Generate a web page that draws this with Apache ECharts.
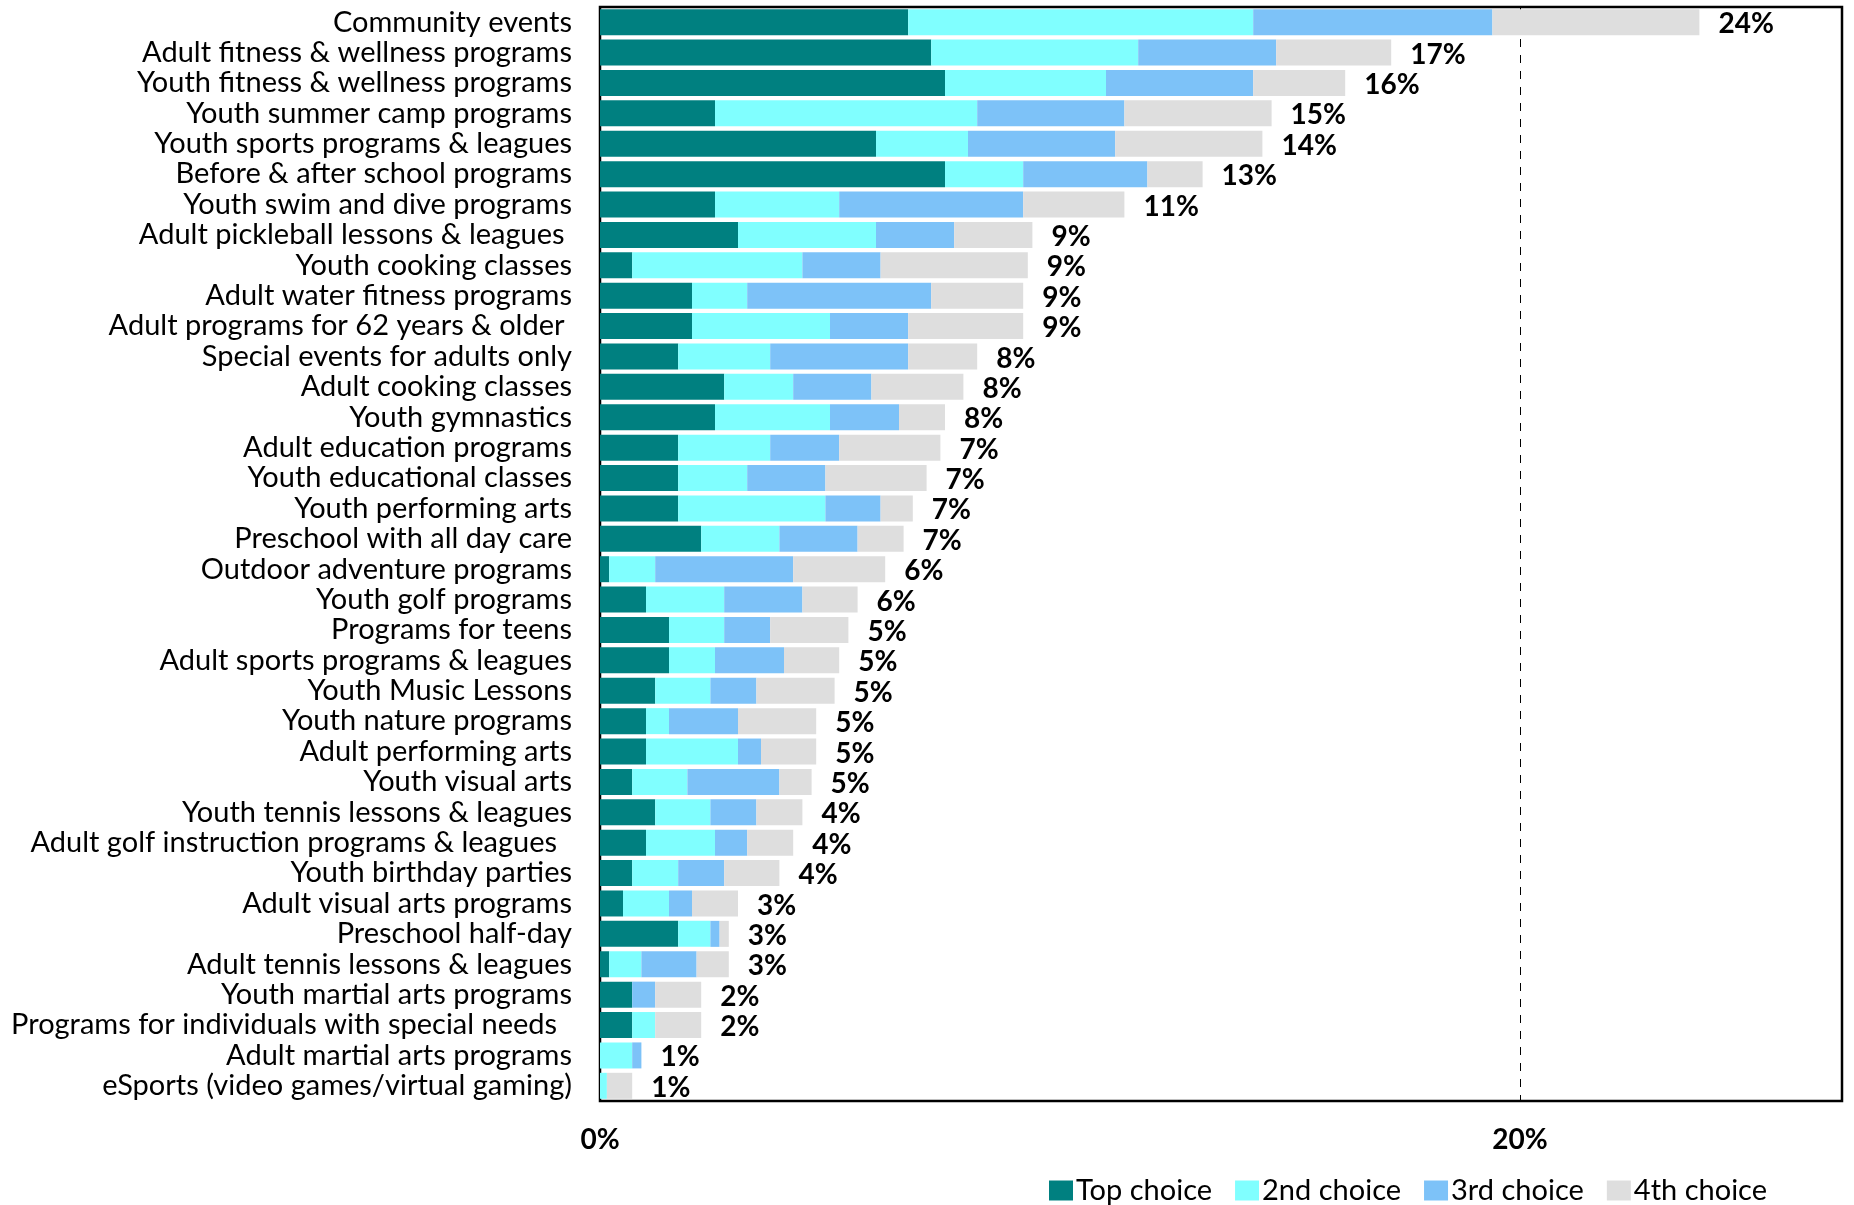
<!DOCTYPE html>
<html>
<head>
<meta charset="utf-8">
<title>Program interest by choice</title>
<script src="https://cdn.jsdelivr.net/npm/echarts@6/dist/echarts.min.js"></script>
<style>
  html, body { margin: 0; padding: 0; background: #fff; }
  #chart { width: 1854px; height: 1205px; }
</style>
</head>
<body>
<div id="chart"></div>
<script>
// categories, top to bottom
const programs = [
    'Community events',
    'Adult fitness & wellness programs',
    'Youth fitness & wellness programs',
    'Youth summer camp programs',
    'Youth sports programs & leagues',
    'Before & after school programs',
    'Youth swim and dive programs',
    'Adult pickleball lessons & leagues ',
    'Youth cooking classes',
    'Adult water fitness programs',
    'Adult programs for 62 years & older ',
    'Special events for adults only',
    'Adult cooking classes',
    'Youth gymnastics',
    'Adult education programs',
    'Youth educational classes',
    'Youth performing arts',
    'Preschool with all day care',
    'Outdoor adventure programs',
    'Youth golf programs',
    'Programs for teens',
    'Adult sports programs & leagues',
    'Youth Music Lessons',
    'Youth nature programs',
    'Adult performing arts',
    'Youth visual arts',
    'Youth tennis lessons & leagues',
    'Adult golf instruction programs & leagues  ',
    'Youth birthday parties',
    'Adult visual arts programs',
    'Preschool half-day',
    'Adult tennis lessons & leagues',
    'Youth martial arts programs',
    'Programs for individuals with special needs  ',
    'Adult martial arts programs',
    'eSports (video games/virtual gaming)'
];

// percent of respondents
const topChoice = [6.7, 7.2, 7.5, 2.5, 6.0, 7.5, 2.5, 3.0, 0.7, 2.0, 2.0, 1.7, 2.7, 2.5, 1.7, 1.7, 1.7, 2.2,
    0.2, 1.0, 1.5, 1.5, 1.2, 1.0, 1.0, 0.7, 1.2, 1.0, 0.7, 0.5, 1.7, 0.2, 0.7, 0.7, 0, 0];
const secondChoice = [7.5, 4.5, 3.5, 5.7, 2.0, 1.7, 2.7, 3.0, 3.7, 1.2, 3.0, 2.0, 1.5, 2.5, 2.0, 1.5, 3.2, 1.7,
    1.0, 1.7, 1.2, 1.0, 1.2, 0.5, 2.0, 1.2, 1.2, 1.5, 1.0, 1.0, 0.7, 0.7, 0, 0.5, 0.7, 0.15];
const thirdChoice = [5.2, 3.0, 3.2, 3.2, 3.2, 2.7, 4.0, 1.7, 1.7, 4.0, 1.7, 3.0, 1.7, 1.5, 1.5, 1.7, 1.2, 1.7,
    3.0, 1.7, 1.0, 1.5, 1.0, 1.5, 0.5, 2.0, 1.0, 0.7, 1.0, 0.5, 0.2, 1.2, 0.5, 0, 0.2, 0];
const fourthChoice = [4.5, 2.5, 2.0, 3.2, 3.2, 1.2, 2.2, 1.7, 3.2, 2.0, 2.5, 1.5, 2.0, 1.0, 2.2, 2.2, 0.7, 1.0,
    2.0, 1.2, 1.7, 1.2, 1.7, 1.7, 1.2, 0.7, 1.0, 1.0, 1.2, 1.0, 0.2, 0.7, 1.0, 1.0, 0, 0.55];

// rounded totals printed at the end of each bar
const totalLabels = [24, 17, 16, 15, 14, 13, 11, 9, 9, 9, 9, 8, 8, 8, 7, 7, 7, 7, 6, 6,
    5, 5, 5, 5, 5, 5, 4, 4, 4, 3, 3, 3, 2, 2, 1, 1];

const seriesNames = ['Top choice', '2nd choice', '3rd choice', '4th choice'];
const colors = ['#008080', '#80FFFF', '#7DC2F8', '#DEDEDE'];

const FONT = 'Lato';

const chart = echarts.init(document.getElementById('chart'));

function makeSeries(name, data, withTotals) {
    let s = {
        name: name,
        type: 'bar',
        stack: 'all',
        data: data,
        barWidth: 26,
        itemStyle: { borderWidth: 0 },
        emphasis: { disabled: true }
    };
    if (withTotals) {
        s.label = {
            show: true,
            position: 'right',
            distance: 19,
            offset: [0, 2],
            color: '#000',
            fontFamily: FONT,
            fontWeight: 'bold',
            fontSize: 28,
            formatter: p => totalLabels[p.dataIndex] + '%'
        };
    }
    return s;
}

chart.setOption({
    animation: false,
    color: colors,
    textStyle: { fontFamily: FONT },
    grid: {
        left: 600,
        right: 12,
        top: 7,
        bottom: 104,
        show: true,
        borderColor: '#000',
        borderWidth: 2.5
    },
    legend: {
        data: seriesNames,
        left: 1044,
        top: 1171,
        itemWidth: 24,
        itemHeight: 20,
        itemGap: 23,
        icon: 'rect',
        textStyle: { fontFamily: FONT, fontSize: 29, color: '#000', padding: [0, 0, 0, -2] }
    },
    xAxis: {
        type: 'value',
        min: 0,
        max: 27,
        interval: 20,
        axisLine: { show: false },
        axisTick: { show: false },
        axisLabel: {
            formatter: '{value}%',
            showMaxLabel: false,
            margin: 25,
            color: '#000',
            fontFamily: FONT,
            fontWeight: 'bold',
            fontSize: 28
        },
        splitLine: { show: true, lineStyle: { color: '#000', type: [8, 8], width: 1 } }
    },
    yAxis: {
        type: 'category',
        data: programs,
        inverse: true,
        axisLine: { show: false },
        axisTick: { show: false },
        axisLabel: {
            interval: 0,
            margin: 28,
            padding: [4, 0, 0, 0],
            color: '#000',
            fontFamily: FONT,
            fontSize: 29
        }
    },
    series: [
        makeSeries(seriesNames[0], topChoice, false),
        makeSeries(seriesNames[1], secondChoice, false),
        makeSeries(seriesNames[2], thirdChoice, false),
        makeSeries(seriesNames[3], fourthChoice, true)
    ]
});
</script>
</body>
</html>
